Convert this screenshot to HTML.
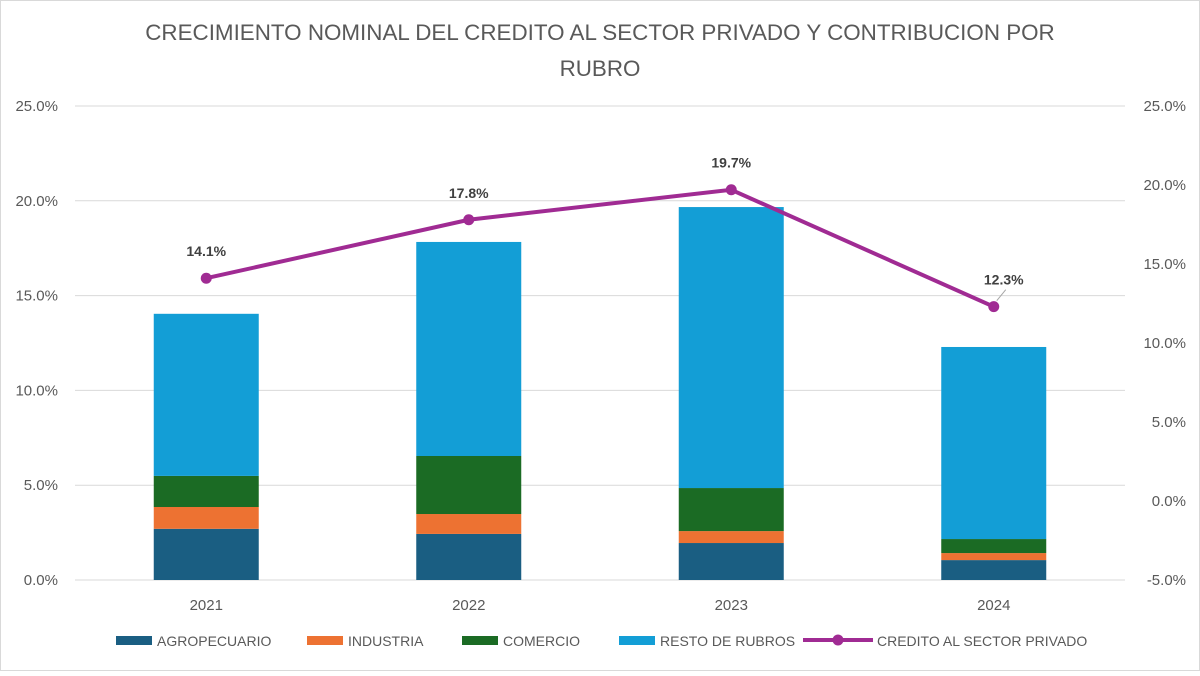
<!DOCTYPE html>
<html><head><meta charset="utf-8"><style>
body{margin:0;background:#fff;font-family:"Liberation Sans",sans-serif}
svg text{font-family:"Liberation Sans",sans-serif}
</style></head><body>
<svg id="chart" width="1200" height="671" viewBox="0 0 1200 671">
<rect x="0.5" y="0.5" width="1199" height="670" fill="#fff" stroke="#d9d9d9"/>
<text x="600" y="40" text-anchor="middle" font-size="22.4" fill="#595959">CRECIMIENTO NOMINAL DEL CREDITO AL SECTOR PRIVADO Y CONTRIBUCION POR</text>
<text x="600" y="76" text-anchor="middle" font-size="22.4" fill="#595959">RUBRO</text>
<g id="grid"></g><g id="bars"></g><g id="line"></g><g id="axes"></g><g id="legend"></g>
</svg>
<script>
const categories=["2021","2022","2023","2024"];
const agro=[2.7,2.43,1.95,1.05];
const industria=[1.15,1.05,0.63,0.37];
const comercio=[1.64,3.06,2.27,0.74];
const resto=[8.55,11.29,14.82,10.13];
const credito=[14.1,17.8,19.7,12.3];
const leftTicks=[0,5,10,15,20,25];
const rightTicks=[-5,0,5,10,15,20,25];
const seriesNames=["AGROPECUARIO","INDUSTRIA","COMERCIO","RESTO DE RUBROS"];
const colors=["#1a5e82","#ed7232","#1b6b24","#139ed6"];
const NS="http://www.w3.org/2000/svg";
const top0=106,bot0=580,x0=75,x1=1125;
const yL=v=>bot0-(v-0)/25*(bot0-top0);
const yR=v=>bot0-(v+5)/30*(bot0-top0);
const cw=(x1-x0)/categories.length;
const xC=i=>x0+cw*(i+0.5);
function el(tag,attrs,parent,txt){const e=document.createElementNS(NS,tag);for(const k in attrs)e.setAttribute(k,attrs[k]);if(txt!=null)e.textContent=txt;document.getElementById(parent).appendChild(e);return e;}
leftTicks.forEach(t=>{
  const g=el("line",{x1:x0,x2:x1,y1:yL(t),y2:yL(t),stroke:"#d9d9d9"},"grid");
  
  
  const l=el("text",{x:58,y:yL(t)+5,"text-anchor":"end","font-size":15,fill:"#595959"},"axes",t.toFixed(1)+"%");
  
  
});
rightTicks.forEach(t=>{
  const l=el("text",{x:1186,y:yR(t)+5,"text-anchor":"end","font-size":15,fill:"#595959"},"axes",t.toFixed(1)+"%");
  
  
});
const series=[agro,industria,comercio,resto];
categories.forEach((c,i)=>{
  let cum=0;const bw=105;
  series.forEach((s,k)=>{
    const r=el("rect",{x:xC(i)-bw/2,y:yL(cum+s[i]),width:bw,height:yL(cum)-yL(cum+s[i]),fill:colors[k]},"bars");
    
    
    cum+=s[i];
  });
  const l=el("text",{x:xC(i),y:610,"text-anchor":"middle","font-size":15,fill:"#595959"},"axes",c);
  
  
});
const p=el("polyline",{points:credito.map((v,i)=>xC(i)+","+yR(v)).join(" "),fill:"none",stroke:"#a02b93","stroke-width":4},"line");


credito.forEach((v,i)=>{
  const d=el("circle",{cx:xC(i),cy:yR(v),r:5.5,fill:"#a02b93"},"line");
  
  
  const last=i==categories.length-1;
  const t=el("text",{x:xC(i)+(last?10:0),y:yR(v)-(last?22:22),"text-anchor":"middle","font-size":14,"font-weight":"bold",fill:"#404040"},"line",v.toFixed(1)+"%");
  
  
  if(last){
    const ld=el("line",{x1:xC(i)+3,y1:yR(v)-6,x2:xC(i)+12,y2:yR(v)-17,stroke:"#a6a6a6","stroke-width":1},"line");
    
    
  }
});
const lx=[116,307,462,619];
seriesNames.forEach((n,k)=>{
  const r=el("rect",{x:lx[k],y:636,width:36,height:9,fill:colors[k]},"legend");
  
  
  const t=el("text",{x:lx[k]+41,y:646,"font-size":14,fill:"#595959"},"legend",n);
  
  
});
const ll=el("line",{x1:803,x2:873,y1:640,y2:640,stroke:"#a02b93","stroke-width":4},"legend");


const lc=el("circle",{cx:838,cy:640,r:5.5,fill:"#a02b93"},"legend");


const lt=el("text",{x:877,y:646,"font-size":14,fill:"#595959"},"legend","CREDITO AL SECTOR PRIVADO");


</script>
</body></html>
